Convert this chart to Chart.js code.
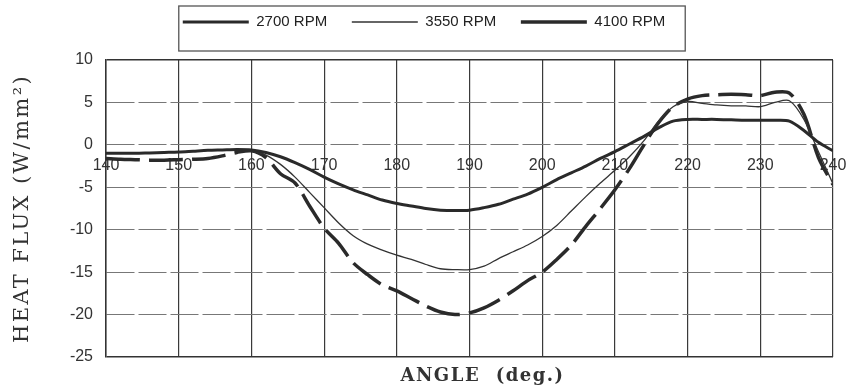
<!DOCTYPE html>
<html>
<head>
<meta charset="utf-8">
<script src="https://cdn.jsdelivr.net/npm/chart.js@4.4.0/dist/chart.umd.min.js"></script>
<style>
html, body { margin: 0; padding: 0; background: #fff; }
#wrap { width: 848px; height: 391px; }
</style>
</head>
<body>
<div id="wrap"><canvas id="myChart" width="848" height="391"></canvas></div>
<script>
// crank angle (deg.)
var angles = [140,142,144,146,148,150,152,154,156,158,
              160,162,164,166,168,170,172,174,176,178,
              180,182,184,186,188,190,192,194,196,198,
              200,202,204,206,208,210,212,214,216,218,
              220,222,224,226,228,230,232,234,236,238,240]

// heat flux (W/mm2)
var rpm2700 = [-1.0,-1.0,-1.0,-0.95,-0.9,-0.85,-0.75,-0.65,-0.6,-0.55,
               -0.6,-0.9,-1.4,-2.1,-2.9,-3.8,-4.6,-5.3,-5.9,-6.5,
               -6.9,-7.2,-7.5,-7.7,-7.75,-7.7,-7.4,-7.0,-6.4,-5.8,
               -5.0,-4.1,-3.3,-2.5,-1.6,-0.8,0.1,1.0,2.0,2.8,
               3.0,3.0,3.0,2.95,2.9,2.9,2.9,2.8,1.7,0.3,-0.7]

var rpm3550 = [-1.0,-1.0,-1.0,-0.95,-0.9,-0.85,-0.75,-0.65,-0.6,-0.6,
               -0.75,-1.2,-2.3,-3.8,-5.6,-7.4,-9.2,-10.7,-11.7,-12.4,
               -13.0,-13.5,-14.1,-14.6,-14.7,-14.7,-14.3,-13.4,-12.6,-11.8,
               -10.8,-9.5,-7.8,-6.1,-4.5,-3.0,-1.4,0.5,2.8,4.5,
               5.1,4.9,4.7,4.6,4.6,4.5,5.0,5.2,3.0,-0.8,-4.6]

var rpm4100 = [-1.6,-1.7,-1.75,-1.8,-1.8,-1.75,-1.7,-1.6,-1.3,-0.9,
               -0.7,-1.5,-3.4,-4.5,-7.2,-9.8,-11.6,-13.9,-15.3,-16.5,
               -17.2,-18.1,-19.0,-19.7,-20.0,-19.8,-19.2,-18.3,-17.2,-16.0,
               -15.0,-13.5,-11.8,-9.6,-7.5,-5.3,-2.8,0.0,2.6,4.5,
               5.4,5.8,5.9,5.95,5.9,5.8,6.2,6.1,3.6,-1.5,-4.7]

var seriesNames = ['2700 RPM', '3550 RPM', '4100 RPM']
var xTitle = 'ANGLE  (deg.)'
var yTitle = 'HEAT FLUX (W/mm\u00B2)'

function toPoints(vals){
    return angles.map(function(a, i){ return {x: a, y: vals[i]} })
}

// axis titles of the scan are letter-spaced; x title sits a bit right of centre
function spaceTitle(scale, spacing, shift){
    if (!scale || scale._spaced) return
    var draw = scale.drawTitle
    scale.drawTitle = function(){
        var ctx = this.ctx
        ctx.save()
        ctx.letterSpacing = spacing
        ctx.translate(shift, 0)
        draw.apply(this, arguments)
        ctx.restore()
    }
    scale._spaced = true
}

// keeps the legend block tall enough and draws the frame round it
var legendFrame = {
    id: 'legendFrame',
    afterInit: function(chart){
        var lg = chart.legend
        var fit = lg.fit
        lg.fit = function(){
            fit.call(this)
            this.height = 53.5
        }
    },
    afterLayout: function(chart){
        spaceTitle(chart.scales.y, '2.4px', 0)
        spaceTitle(chart.scales.x2, '1.5px', 13)
    },
    afterDraw: function(chart){
        var hb = chart.legend.legendHitBoxes
        if (!hb || !hb.length) return
        var last = hb[hb.length - 1]
        var l = hb[0].left - 4
        var r = last.left + last.width + 20
        var ctx = chart.ctx
        ctx.save()
        ctx.strokeStyle = '#555'
        ctx.lineWidth = 1.3
        ctx.strokeRect(l, chart.legend.top - 0.5, r - l, 45)
        ctx.restore()
    }
}

var inner = function(c){ return c.tick && c.tick.value > -25 && c.tick.value < 10 }
var tickFont = { family: 'Liberation Sans, Arial, sans-serif', size: 16 }

var myChart = document.getElementById('myChart').getContext('2d')

var chart = new Chart(myChart, {
    type: 'line',
    data: {
        datasets: [
            {
                label: seriesNames[0],
                data: toPoints(rpm2700),
                borderColor: '#2a2a2a',
                borderWidth: 3,
                pointRadius: 0,
                tension: 0.3,
                fill: false
            },
            {
                label: seriesNames[1],
                data: toPoints(rpm3550),
                borderColor: '#333',
                borderWidth: 1.3,
                pointRadius: 0,
                tension: 0.3,
                fill: false
            },
            {
                label: seriesNames[2],
                data: toPoints(rpm4100),
                borderColor: '#2a2a2a',
                borderWidth: 3.5,
                borderDash: [34, 9],
                pointRadius: 0,
                tension: 0.3,
                fill: false
            }
        ]
    },
    options: {
        responsive: false,
        animation: false,
        devicePixelRatio: 1,
        layout: { autoPadding: false, padding: { top: 6.5, right: 0, bottom: 0, left: 0 } },
        plugins: {
            tooltip: { enabled: false },
            legend: {
                position: 'top',
                labels: {
                    usePointStyle: true,
                    pointStyle: 'line',
                    pointStyleWidth: 66,
                    padding: 8,
                    color: '#222',
                    font: { family: 'Liberation Sans, Arial, sans-serif', size: 15 },
                    generateLabels: function(c){
                        var items = Chart.defaults.plugins.legend.labels.generateLabels(c)
                        items.forEach(function(it, i){
                            if (i < items.length - 1) it.text = it.text + '    '
                        })
                        return items
                    }
                }
            }
        },
        scales: {
            x: {
                type: 'linear',
                position: { y: 0 },
                min: 140,
                max: 240,
                ticks: { stepSize: 10, padding: 11, maxRotation: 0, color: '#333', font: tickFont },
                grid: { drawTicks: false, color: '#3a3a3a', lineWidth: 1.2 },
                border: { display: false },
                afterFit: function(s){ s.paddingLeft = 0; s.paddingRight = 0 }
            },
            x2: {
                type: 'linear',
                position: 'bottom',
                min: 140,
                max: 240,
                ticks: { display: false },
                grid: { display: false, drawTicks: false },
                border: { display: false },
                title: {
                    display: true,
                    text: xTitle,
                    color: '#333',
                    font: { family: 'DejaVu Serif, serif', size: 18, weight: 'bold' },
                    padding: { top: 8, bottom: 4 }
                },
                afterFit: function(s){ s.height = 34 }
            },
            y: {
                min: -25,
                max: 10,
                ticks: { stepSize: 5, padding: 13, color: '#333', font: tickFont },
                grid: {
                    drawTicks: false,
                    color: function(c){ return inner(c) ? '#777' : '#333' },
                    lineWidth: function(c){ return inner(c) ? 1 : 1.5 }
                },
                border: {
                    display: true,
                    color: '#333',
                    width: 1.5,
                    dash: function(c){ return inner(c) ? [28, 4] : [] }
                },
                title: {
                    display: true,
                    text: yTitle,
                    color: '#333',
                    font: { family: 'DejaVu Serif, serif', size: 21 },
                    padding: { top: 10, bottom: 0 }
                },
                afterFit: function(s){ s.width = 106 }
            },
            y2: {
                type: 'linear',
                position: 'right',
                ticks: { display: false },
                grid: { display: false, drawTicks: false },
                border: { display: false },
                afterFit: function(s){ s.width = 15 }
            }
        }
    },
    plugins: [legendFrame]
})
</script>
</body>
</html>
